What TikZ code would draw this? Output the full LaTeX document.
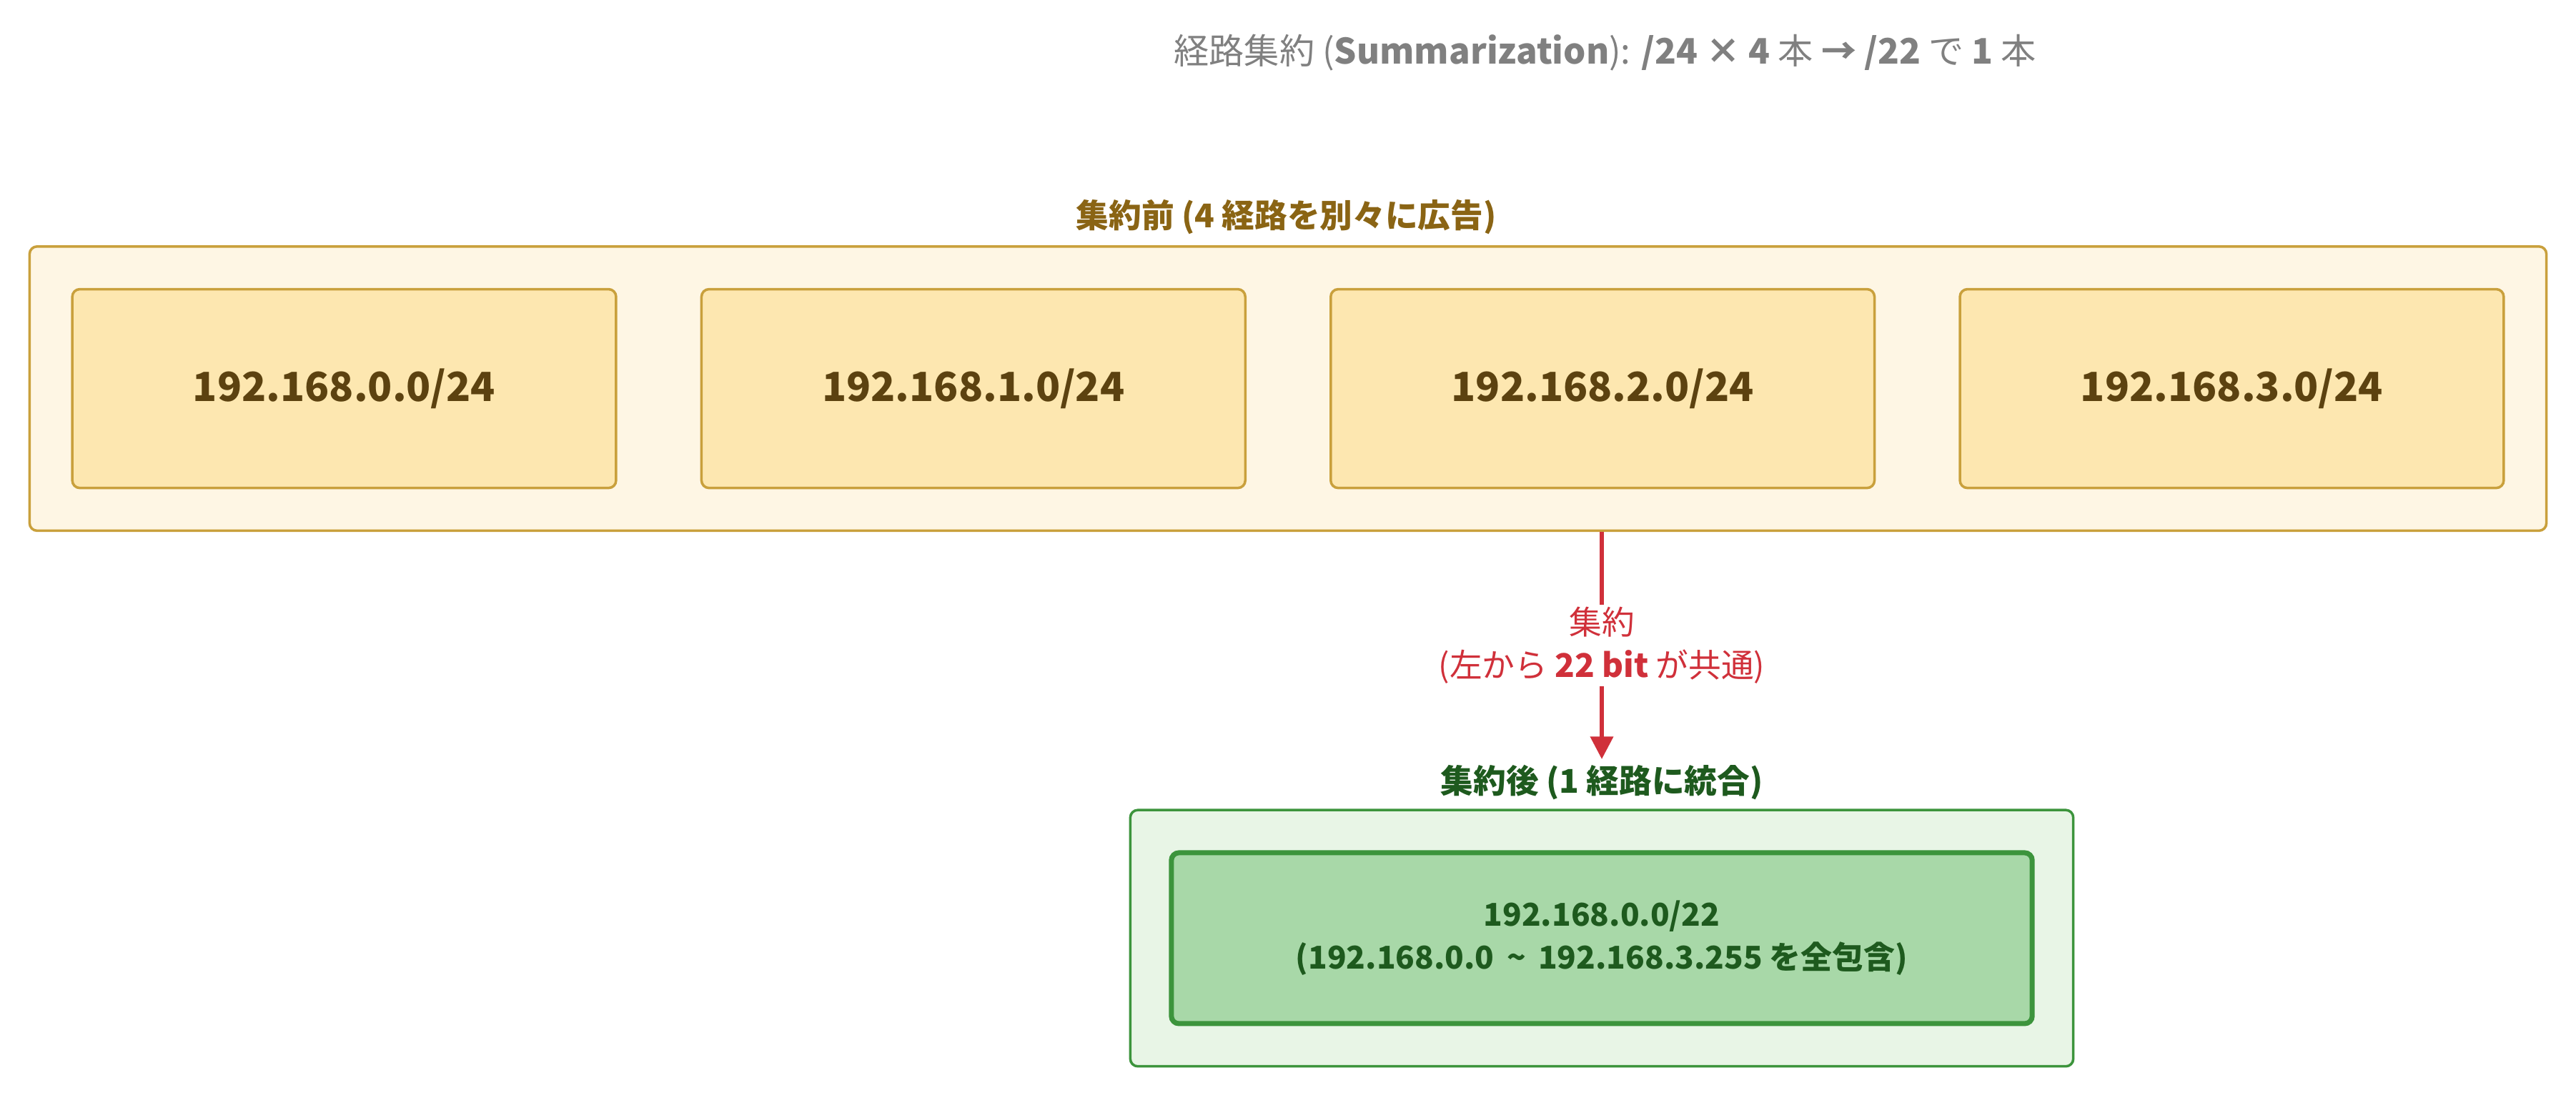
\documentclass[tikz,border=0pt]{standalone}
\usepackage{fontspec}
\setmainfont{Noto Sans CJK JP}
\usetikzlibrary{arrows.meta, positioning}
\definecolor{goldline}{HTML}{C9A03C}
\definecolor{goldfill}{HTML}{FEF6E4}
\definecolor{netfill}{HTML}{FDE7B0}
\definecolor{nettext}{HTML}{5C4210}
\definecolor{goldtext}{HTML}{8A6414}
\definecolor{greenline}{HTML}{3C943C}
\definecolor{greenfill}{HTML}{E8F5E6}
\definecolor{greenbox}{HTML}{A8D8A8}
\definecolor{greentext}{HTML}{1E5A1E}
\definecolor{arrowred}{HTML}{D0303A}
\begin{document}
\begin{tikzpicture}[x=0.023cm, y=-0.023cm,
    group/.style={rectangle, rounded corners=3pt, draw=goldline, fill=goldfill, line width=1pt},
    net/.style={rectangle, rounded corners=3pt, draw=goldline, fill=netfill, line width=1pt,
                minimum width=331*0.023cm, minimum height=121*0.023cm,
                text=nettext, font=\bfseries\fontsize{16}{19}\selectfont},
    caption/.style={font=\bfseries\fontsize{13}{16}\selectfont},
    arrow/.style={-{Triangle[length=9pt, width=9pt]}, arrowred, line width=1.5pt}]

    \useasboundingbox (0,0) rectangle (1568,668);

    % Title
    \node[font=\fontsize{14}{17}\selectfont, text=gray] (title) at (977,32)
        {経路集約 (\textbf{Summarization}): \textbf{/24 × 4} 本 \textbf{→ /22} で \textbf{1} 本};

    % Before
    \node[group, minimum width=1532*0.023cm, minimum height=173*0.023cm] (before) at (784,236.5) {};
    \node[caption, text=goldtext] (beforelabel) at (783,132) {集約前 (4 経路を別々に広告)};
    \foreach \i/\x in {0/209.5, 1/592.5, 2/975.5, 3/1358.5}
        \node[net] (net\i) at (\x,236.5) {192.168.\i.0/24};

    % After
    \node[rectangle, rounded corners=3pt, draw=greenline, fill=greenfill, line width=1pt,
          minimum width=574*0.023cm, minimum height=156*0.023cm] (after) at (975,571) {};
    \node[caption, text=greentext] (afterlabel) at (975,476) {集約後 (1 経路に統合)};
    \node[rectangle, rounded corners=3pt, draw=greenline, fill=greenbox, line width=2pt,
          minimum width=524*0.023cm, minimum height=104*0.023cm, align=center,
          text=greentext, font=\bfseries\fontsize{12.5}{17}\selectfont] (summary) at (975,571)
        {192.168.0.0/22\\(192.168.0.0 \,\textasciitilde\, 192.168.3.255 を全包含)};

    % Arrow
    \coordinate (arrowend) at (975,462);
    \draw[arrow] (before.south -| arrowend) -- node[fill=white, align=center, text=arrowred,
        font=\bfseries\fontsize{13}{17}\selectfont, inner sep=1pt] (arrowlabel)
        {\mdseries 集約\\\mdseries(左から \bfseries 22 bit \mdseries が共通)} (arrowend);
\end{tikzpicture}
\end{document}
